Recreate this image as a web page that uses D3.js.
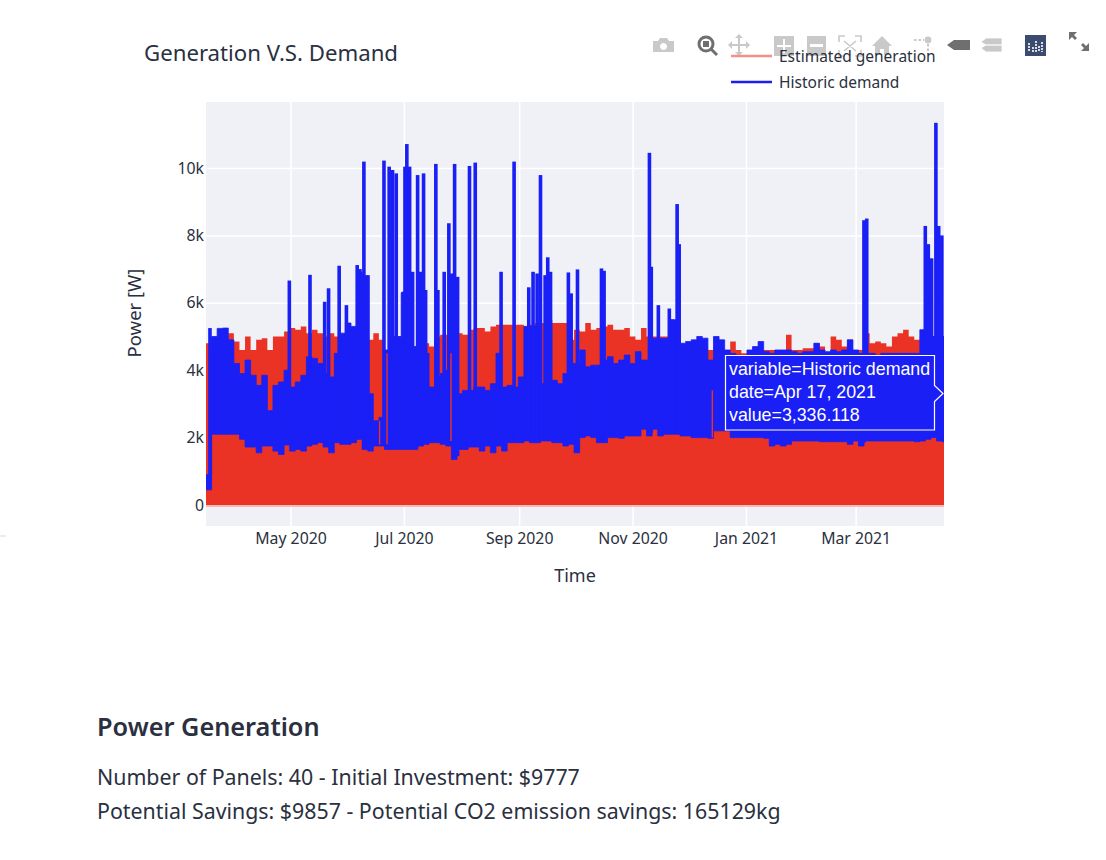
<!DOCTYPE html>
<html><head><meta charset="utf-8">
<script src="https://cdn.jsdelivr.net/npm/d3@7"></script>
<style>html,body{margin:0;padding:0;background:#fff}svg{display:block}text{font-family:"Noto Sans",sans-serif;fill:#2a3040}</style>
</head><body><svg id="c" width="1106" height="860"></svg>
<script>
const startDate = new Date(2020, 2, 16);
const stepDays = 3;
// values in kW-thousands, one per 3-day step
const generationPeak = [4.8,4.7,4.9,5.0,5.1,4.85,4.6,5.0,4.6,4.9,4.95,4.6,5.0,5.0,5.15,5.25,5.2,5.3,5.1,5.2,5.1,5.0,5.1,5.0,5.0,5.0,5.0,5.0,5.0,4.9,5.1,4.9,4.6,5.0,5.0,5.0,5.0,4.7,5.0,4.8,4.7,5.0,5.05,5.05,5.0,5.1,5.05,5.2,5.25,5.25,5.15,5.3,5.35,5.35,5.35,5.35,5.35,5.3,5.35,5.4,5.4,5.4,5.4,5.4,5.4,4.9,5.2,5.15,5.4,5.2,5.25,5.3,5.35,5.2,5.2,5.25,5.0,4.9,5.25,5.0,5.0,5.0,5.0,5.0,5.0,4.7,4.7,4.7,4.7,4.7,4.6,4.7,4.6,4.6,4.85,4.6,4.5,4.6,4.6,4.6,4.6,4.6,4.6,4.6,5.05,4.6,4.6,4.65,4.65,4.8,4.7,4.5,5.0,4.9,4.7,4.9,4.6,4.6,5.1,4.8,4.85,4.8,4.7,5.0,5.1,5.2,5.0,4.9,5.0,5.0,5.0,5.0,5.0];
const demandLow = [0.45,2.1,2.1,2.1,2.1,2.1,1.95,1.72,1.72,1.55,1.75,1.75,1.6,1.5,1.78,1.6,1.65,1.6,1.75,1.8,1.85,1.72,1.55,1.85,1.8,1.8,1.85,1.95,1.65,1.6,1.75,1.75,1.65,1.65,1.65,1.65,1.65,1.65,1.75,1.8,1.85,1.85,1.8,1.75,1.35,1.65,1.65,1.72,1.72,1.6,1.75,1.55,1.75,1.6,1.85,1.85,1.85,1.9,1.85,1.85,1.9,1.9,1.85,1.85,1.75,1.8,1.55,2.0,2.05,2.0,1.85,1.85,2.0,2.0,1.98,2.05,2.05,2.05,2.25,2.05,2.25,2.05,2.1,2.1,2.1,2.05,2.05,2.0,2.0,2.0,1.98,2.2,2.2,2.2,2.0,2.0,2.0,2.0,2.0,2.0,1.98,1.75,1.8,1.75,1.8,1.9,1.9,1.9,1.9,1.9,1.88,1.88,1.88,1.88,1.88,1.8,1.9,1.75,1.9,1.9,1.9,1.9,1.9,1.9,1.9,1.9,1.9,1.88,1.9,1.95,2.0,1.9,1.88];
const demandHigh = [0.9,5.0,5.24,5.25,4.9,4.2,3.9,4.3,3.85,3.55,3.85,2.8,3.55,3.65,4.0,3.5,3.65,3.85,4.4,4.35,4.2,3.9,3.8,4.5,5.1,5.4,5.3,6.9,6.8,3.3,2.5,2.6,4.6,5.0,5.0,6.3,6.9,4.7,6.9,4.5,3.5,3.8,3.9,4.0,6.7,3.3,3.4,3.4,3.5,3.5,3.4,3.6,4.5,3.5,3.55,3.5,3.8,5.3,5.3,5.3,3.6,5.5,3.7,3.6,3.9,4.2,4.2,4.6,4.1,4.15,4.15,4.3,4.4,4.2,4.3,4.45,4.2,4.55,4.3,4.3,4.95,4.95,4.95,5.5,5.5,4.8,4.85,4.9,5.0,4.95,4.3,5.0,4.9,4.6,4.5,4.45,4.4,4.6,4.7,4.85,4.55,4.5,4.6,4.6,4.6,4.55,4.5,4.55,4.55,4.8,4.6,4.55,4.6,4.55,4.6,4.9,4.6,4.5,4.5,4.5,4.45,4.5,4.5,4.5,4.5,4.5,4.5,4.5,5.2,5.2,5.0,5.0,5.0];
// short demand spikes: day after start, peak
const spikeDays = [1.6,44.3,55.4,63.3,65.4,71.1,75,80.8,82.3,84.4,86.6,95.2,98,99.8,101.8,105.7,106.5,107.5,109,110.6,113.3,115,116.5,117.6,123.1,124.2,127.6,130.1,131.5,133.2,134.8,141.2,144.3,158.2,165.2,173.1,175.4,177.6,179.4,181.9,183.3,184.8,194.4,195.9,199.3,212.2,213.6,238,239,242.8,248.7,250.5,252.9,254,353.4,354.9,386.4,388,389.8,392.1,393.6,395.3];
const spikePeaks = [5.25,6.66,6.83,6.03,6.43,7.1,5.93,7.12,7.0,10.19,6.82,10.22,10.04,9.94,9.84,6.33,10.04,10.71,10.04,6.92,9.79,6.92,9.84,6.38,10.12,6.38,6.92,8.36,6.87,10.12,6.77,10.06,10.16,6.92,10.19,6.46,6.92,6.87,9.79,6.82,7.35,6.92,6.9,6.28,6.99,7.02,6.95,10.45,7.07,5.93,5.83,5.5,8.93,7.74,8.45,8.5,8.28,7.74,7.32,11.34,8.28,8.0];
// gaps where the generation shows through the demand band
const slitDays = [93,97,131.4,272];
const slitLow = [1.8,1.8,1.9,2.0];
const slitHigh = [2.5,4.5,4.5,3.4];
const xTickDates = [new Date(2020,4,1),new Date(2020,6,1),new Date(2020,8,1),new Date(2020,10,1),new Date(2021,0,1),new Date(2021,2,1)];
const xTickLabels = ["May 2020","Jul 2020","Sep 2020","Nov 2020","Jan 2021","Mar 2021"];
const yTicks = [0,2000,4000,6000,8000,10000];
const legendNames = ["Estimated generation","Historic demand"];
const tooltipLines = ["variable=Historic demand","date=Apr 17, 2021","value=3,336.118"];
const bodyLines = ["Number of Panels: 40 - Initial Investment: $9777","Potential Savings: $9857 - Potential CO2 emission savings: 165129kg"];

const RED="#ea3324", BLUE="#191ff5";
const svg=d3.select("#c");
const dayDate=d=>new Date(+startDate+d*864e5);
const x=d3.scaleTime().domain([startDate,dayDate(397)]).range([206,944]);
const y=d3.scaleLinear().domain([-623,11958]).range([526,102]);

svg.append("rect").attr("x",0).attr("y",535).attr("width",6).attr("height",2).attr("fill","#eee");
svg.append("rect").attr("x",206).attr("y",102).attr("width",738).attr("height",424).attr("fill","#eff1f6");
svg.append("defs").append("clipPath").attr("id","pl").append("rect").attr("x",206).attr("y",102).attr("width",738).attr("height",424);

const gx=svg.append("g").attr("transform","translate(-1,526)")
 .call(d3.axisBottom(x).tickValues(xTickDates).tickFormat((d,i)=>xTickLabels[i]).tickSize(-424).tickPadding(4));
gx.select(".domain").remove();
gx.selectAll("line").attr("stroke","#fff").attr("stroke-width",1.5);
gx.selectAll("text").attr("font-size",15.800).attr("dy",13.500).style("fill","#2a3040");
const gy=svg.append("g").attr("transform","translate(206,0)")
 .call(d3.axisLeft(y).tickValues(yTicks).tickFormat(d=>d?d/1000+"k":"0").tickSize(-738).tickPadding(2));
gy.select(".domain").remove();
gy.selectAll("line").attr("stroke","#fff").attr("stroke-width",1.5);
gy.selectAll("text").attr("font-size",15.800).style("fill","#2a3040");

const plot=svg.append("g").attr("clip-path","url(#pl)");
const marks=plot.append("g").style("filter","blur(0.4px)");
const idx=d3.range(generationPeak.length+1);
const at=(a,i)=>a[Math.min(i,a.length-1)]*1000;
const bx=i=>x(dayDate(i*stepDays));
marks.append("path").attr("fill",RED)
 .attr("d",d3.area().curve(d3.curveStepAfter).x(bx).y0(y(0)).y1(i=>y(at(generationPeak,i)))(idx));
marks.append("line").attr("x1",206).attr("x2",944).attr("y1",y(0)+1).attr("y2",y(0)+1).attr("stroke","#f6a59d").attr("stroke-width",1.5);
marks.append("path").attr("fill",BLUE).attr("stroke",BLUE).attr("stroke-width",0.8)
 .attr("d",d3.area().curve(d3.curveStepAfter).x(bx).y0(i=>y(at(demandLow,i))).y1(i=>y(at(demandHigh,i)))(idx));
marks.selectAll(".sp").data(spikeDays).join("rect").attr("class","sp").attr("fill",BLUE)
 .attr("x",d=>x(dayDate(d))-0.8)
 .attr("width",3.6)
 .attr("y",(d,i)=>y(spikePeaks[i]*1000))
 .attr("height",(d,i)=>y(at(demandLow,Math.floor(d/stepDays))+100)-y(spikePeaks[i]*1000));
marks.selectAll(".sl").data(slitDays).join("rect").attr("class","sl").attr("fill",RED)
 .attr("x",d=>x(dayDate(d))).attr("width",1.4)
 .attr("y",(d,i)=>y(slitHigh[i]*1000))
 .attr("height",(d,i)=>y(slitLow[i]*1000)-y(slitHigh[i]*1000));

// toolbar
const tb=svg.append("g");
const LG="#c9c9c9",DK="#6f6f6f";
tb.append("path").attr("fill",LG).attr("fill-rule","evenodd").attr("d","M653 41h5l2-3h7l2 3h5v11h-21zM663.500 43a3.500 3.500 0 1 0 .01 0z");
tb.append("circle").attr("cx",706).attr("cy",44).attr("r",7).attr("fill","none").attr("stroke",DK).attr("stroke-width",3);
tb.append("rect").attr("x",703).attr("y",41).attr("width",6).attr("height",6).attr("fill",DK);
tb.append("line").attr("x1",711).attr("y1",49).attr("x2",717).attr("y2",55).attr("stroke",DK).attr("stroke-width",3);
tb.append("path").attr("fill",LG).attr("d","M739 34l4 4h-3v6h6v-3l4 4-4 4v-3h-6v6h3l-4 4-4-4h3v-6h-6v3l-4-4 4-4v3h6v-6h-3z");
tb.append("path").attr("fill",LG).attr("d","M774 36h20v20h-20zM783 39v6h-6v2h6v6h2v-6h6v-2h-6v-6z").attr("fill-rule","evenodd");
tb.append("path").attr("fill",LG).attr("d","M807 36h19v20h-19zM810 44v3h13v-3z").attr("fill-rule","evenodd");
tb.append("path").attr("fill","none").attr("stroke",LG).attr("stroke-width",1.6).attr("d","M839 42v-6h6M855 36h6v6M861 50v6h-6M845 56h-6v-6M844 41l12 10M856 41l-12 10");
tb.append("path").attr("fill",LG).attr("d","M882 36l10 10h-3v9h-5v-6h-4v6h-5v-9h-3z");
tb.append("circle").attr("cx",928).attr("cy",40).attr("r",3.4).attr("fill",LG);
tb.append("path").attr("stroke",LG).attr("stroke-width",2).attr("stroke-dasharray","2.500 2").attr("fill","none").attr("d","M914 40h10M928 44v10");
tb.append("path").attr("fill",DK).attr("d","M947 45l7-5h16v10h-16z");
tb.append("path").attr("fill",LG).attr("d","M981 42l5-4h16v7h-16zM981 48l5 4h16v-7h-16z").attr("stroke","#fff").attr("stroke-width",0.8);
tb.append("rect").attr("x",1025).attr("y",35).attr("width",21).attr("height",21).attr("fill","#3b4c70");
tb.append("path").attr("stroke","#fff").attr("stroke-width",1.6).attr("stroke-dasharray","2 1").attr("fill","none").attr("d","M1029 43v9M1033 47v5M1036 41v11M1039 46v6M1042 42v10");
tb.append("path").attr("fill",DK).attr("d","M1069 32h8l-3 3 3 3-2 2-3-3-3 3zM1089 51h-8l3-3-3-3 2-2 3 3 3-3z");

// title, legend, axis titles
svg.append("text").attr("x",144).attr("y",61).attr("font-size",22.200).text("Generation V.S. Demand");
const lg=svg.append("g");
[["#f4908a",57],[ "#1a1ff0",83]].forEach((d,i)=>{
 lg.append("line").attr("x1",731).attr("x2",772).attr("y1",d[1]-1).attr("y2",d[1]-1).attr("stroke",d[0]).attr("stroke-width",2.600);
 lg.append("text").attr("x",779).attr("y",d[1]+5).attr("font-size",15.500).text(legendNames[i]);
});
svg.append("text").attr("x",575).attr("y",582).attr("text-anchor","middle").attr("font-size",18).text("Time");
svg.append("text").attr("transform","translate(141,313) rotate(-90)").attr("text-anchor","middle").attr("font-size",18.500).text("Power [W]");

// hover box
svg.append("path").attr("fill",BLUE).attr("stroke","#fff").attr("stroke-width",1.2)
 .attr("d","M725.500 355.500H934.500V385.500L943 393.500L934.500 401.500V430H725.500Z");
tooltipLines.forEach((t,i)=>svg.append("text").attr("x",729).attr("y",[375,398,421][i]).attr("font-size",17.800).style("font-family","'Liberation Sans',Arial,sans-serif").style("fill","#fff").text(t));

svg.append("text").attr("x",97).attr("y",736).attr("font-size",25.300).attr("font-weight",600).text("Power Generation");
bodyLines.forEach((t,i)=>svg.append("text").attr("x",97).attr("y",[785,819][i]).attr("font-size",21.350).text(t));
</script></body></html>
